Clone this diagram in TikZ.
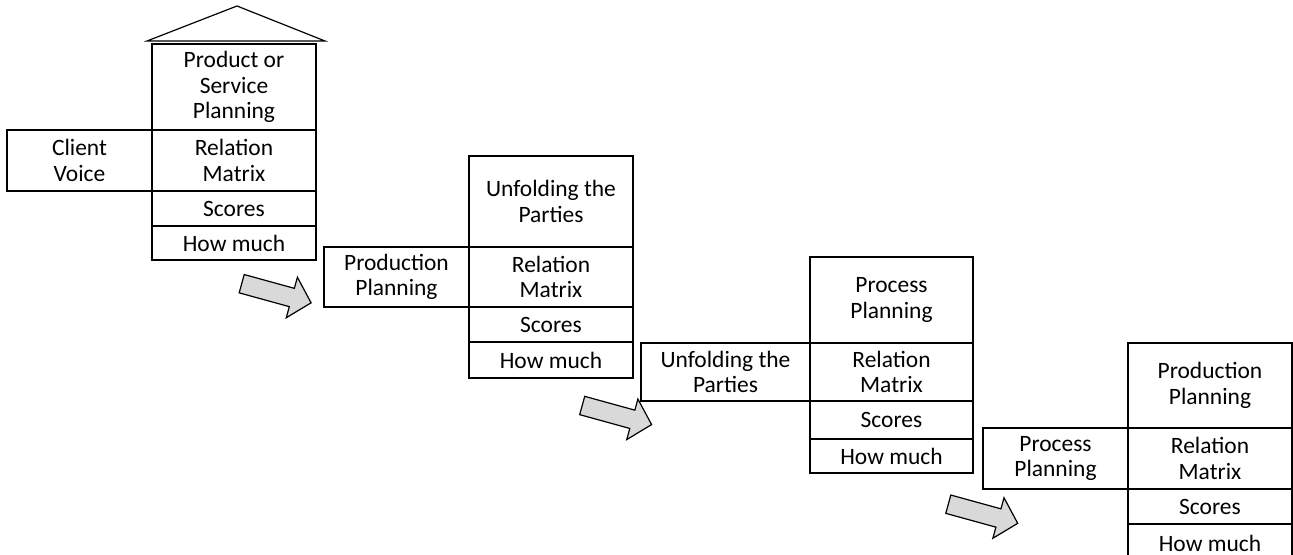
\documentclass[tikz,border=0pt]{standalone}
\usepackage{fontspec}
\setmainfont{Carlito}
\definecolor{arrowgray}{HTML}{D9D9D9}
\tikzset{
  cell/.style={draw=black, line width=0.9pt, inner sep=0pt, align=center,
    font=\fontsize{17.6}{19}\selectfont},
  roofline/.style={draw=black, line width=0.9pt},
  arrowshape/.style={draw=black, fill=arrowgray, line width=0.9pt, line join=miter},
  blockarrow/.pic={\draw[arrowshape] (0,-9.5) -- (52,-9.5) -- (52,-21) -- (72,0) -- (52,21) -- (52,9.5) -- (0,9.5) -- cycle;}
}
\newcommand\cellbox[6]{\node[cell, minimum width={(#4-#2)*0.75pt}, minimum height={(#5-#3)*0.75pt}] (#1) at ({(#2+#4)/2},{(#3+#5)/2}) {#6};}
\begin{document}
\begin{tikzpicture}[x=0.75pt,y=-0.75pt]
\clip (0,0) rectangle (1293,555);
% Stage 1
\cellbox{sAtop}{152}{44}{316}{130}{Product or\\Service\\Planning}
\cellbox{sArel}{152}{130}{316}{191}{Relation\\Matrix}
\cellbox{sAsc}{152}{191}{316}{226}{Scores}
\cellbox{sAhm}{152}{226}{316}{260}{How much}
\cellbox{sAleft}{7}{130}{152}{191}{Client\\Voice}
\coordinate (roofL) at (147,41);
\coordinate (roofT) at (237,6);
\coordinate (roofR) at (325,41);
\draw[roofline] (roofL) -- (roofT) -- (roofR) -- cycle;
% Stage 2
\cellbox{sBtop}{469}{156}{633}{247}{Unfolding the\\Parties}
\cellbox{sBrel}{469}{247}{633}{307}{Relation\\Matrix}
\cellbox{sBsc}{469}{307}{633}{342}{Scores}
\cellbox{sBhm}{469}{342}{633}{378}{How much}
\cellbox{sBleft}{324}{247}{469}{307}{Production\\Planning}
% Stage 3
\cellbox{sCtop}{810}{257}{973}{343}{Process\\Planning}
\cellbox{sCrel}{810}{343}{973}{401}{Relation\\Matrix}
\cellbox{sCsc}{810}{401}{973}{439}{Scores}
\cellbox{sChm}{810}{439}{973}{473}{How much}
\cellbox{sCleft}{641}{343}{810}{401}{Unfolding the\\Parties}
% Stage 4
\cellbox{sDtop}{1128}{343}{1292}{428}{Production\\Planning}
\cellbox{sDrel}{1128}{428}{1292}{489}{Relation\\Matrix}
\cellbox{sDsc}{1128}{489}{1292}{524}{Scores}
\cellbox{sDhm}{1128}{524}{1292}{562}{How much}
\cellbox{sDleft}{983}{428}{1128}{489}{Process\\Planning}
% Arrows
\coordinate (arA) at (241.7,283.7);
\coordinate (arB) at (582.2,405.5);
\coordinate (arC) at (948.3,504.2);
\pic[rotate=-15.4] at (arA) {blockarrow};
\pic[rotate=-15.4] at (arB) {blockarrow};
\pic[rotate=-15.4] at (arC) {blockarrow};
\end{tikzpicture}
\end{document}
